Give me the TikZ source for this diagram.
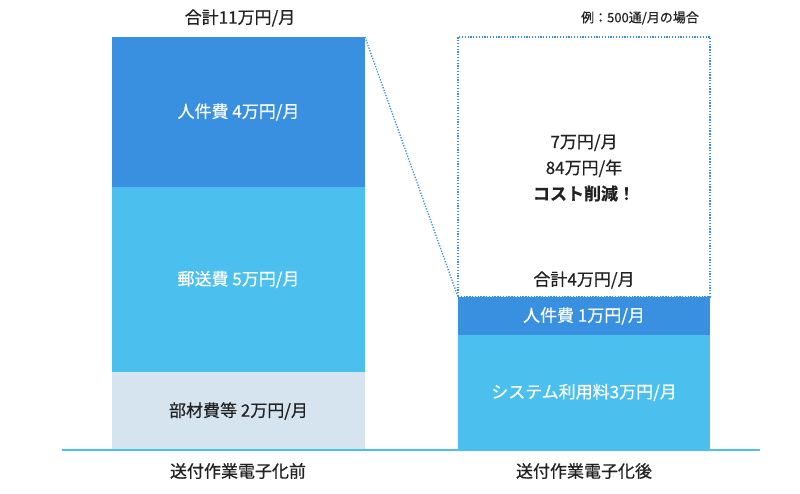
\documentclass[tikz,border=0pt]{standalone}
\usepackage{fontspec}
\setmainfont{Noto Sans CJK JP}[FakeBold=0.6,BoldFont=Noto Sans CJK JP Bold]
\definecolor{dk}{HTML}{3A90E0}
\definecolor{lt}{HTML}{4BBFEE}
\definecolor{pl}{HTML}{D6E4F0}
\definecolor{tx}{HTML}{222222}
\begin{document}
\begin{tikzpicture}[x=1pt,y=-1pt,
  seg/.style={anchor=north west,inner sep=0,outer sep=0,text=white,font=\fontsize{17}{20}\selectfont,align=center},
  lab/.style={text=tx,font=\fontsize{17}{20}\selectfont,align=center,inner sep=0},
  dl/.style={draw=dk,line width=1.3pt,dash pattern=on 1.3pt off 1.5pt}]
\useasboundingbox (0,0) rectangle (800,494);
\fill[white] (0,0) rectangle (800,494);
\node[seg,fill=dk,minimum width=253,minimum height=150] (a1) at (112,37) {人件費 4万円/月};
\node[seg,fill=lt,minimum width=253,minimum height=185] (a2) at (112,187) {郵送費 5万円/月};
\node[seg,fill=pl,text=tx,minimum width=253,minimum height=78] (a3) at (112,372) {部材費等 2万円/月};
\node[seg,dl,text=tx,minimum width=252,minimum height=260] (b0) at (458,37) {};
\node[seg,fill=dk,minimum width=252,minimum height=38] (b1) at (458,297) {人件費 1万円/月};
\node[seg,fill=lt,minimum width=252,minimum height=115] (b2) at (458,335) {システム利用料3万円/月};
\draw[dl] (a1.north east) -- (b1.north west);
\draw[lt,line width=1.2pt] (62,450) coordinate (g1) -- (760,450) coordinate (g2);
\node[lab] (t1) at (240,18) {合計11万円/月};
\node[lab,font=\fontsize{13}{16}\selectfont] (t2) at (640,18) {例：500通/月の場合};
\node[lab,font=\fontsize{17}{26}\selectfont] (t3) at (584,168) {7万円/月\\84万円/年\\\textbf{コスト削減！}};
\node[lab] (t4) at (584,280) {合計4万円/月};
\node[lab] (t5) at (238,471) {送付作業電子化前};
\node[lab] (t6) at (584,471) {送付作業電子化後};
\end{tikzpicture}
\end{document}
